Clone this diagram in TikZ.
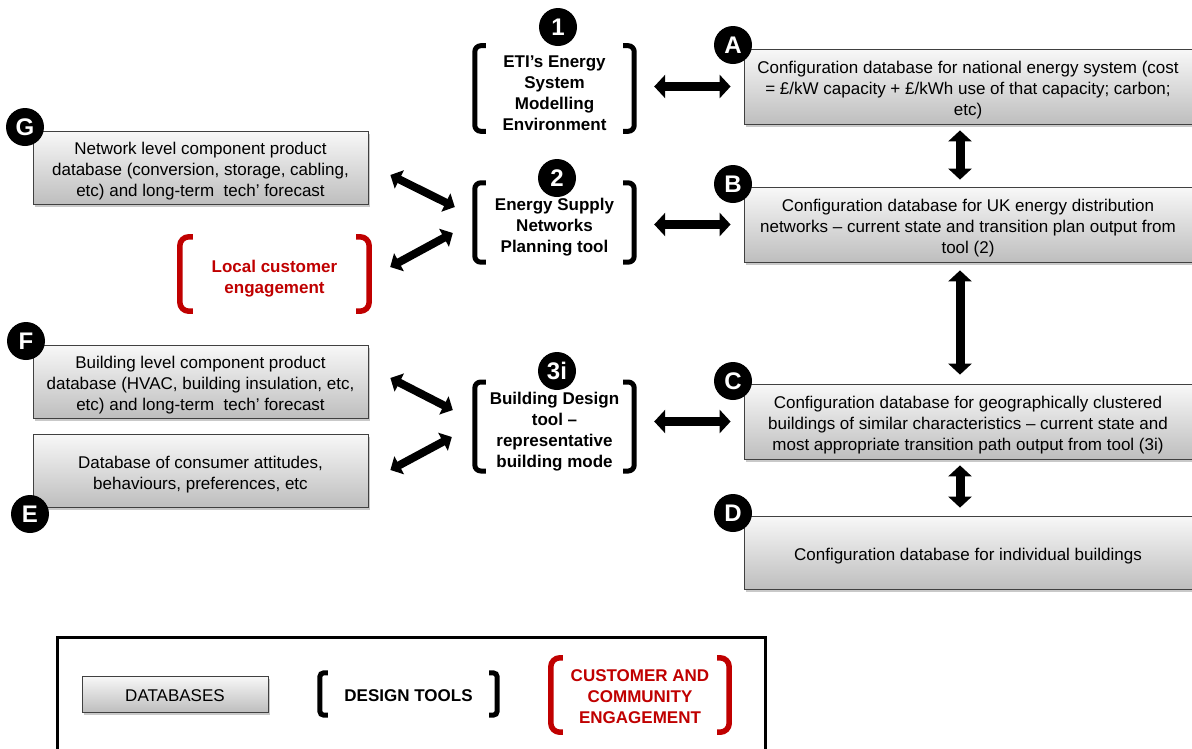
\documentclass[tikz,border=0pt]{standalone}
\usepackage{fontspec}
\setmainfont{Liberation Sans}
\usetikzlibrary{arrows.meta,shadows,calc}

\definecolor{ered}{HTML}{C00000}
\definecolor{boxtop}{HTML}{F8F8F8}
\definecolor{boxbot}{HTML}{BEBEBE}
\definecolor{boxline}{HTML}{404040}

\newcommand\ms{\rule{0pt}{20.5pt}}
\newcommand\mt{\rule{0pt}{22pt}}
\newcommand\ml{\rule{0pt}{16pt}}

\tikzset{
  db/.style={draw=boxline, line width=0.8pt, top color=boxtop, bottom color=boxbot,
    drop shadow={shadow xshift=2pt, shadow yshift=-2.5pt, opacity=0.35, fill=black!60},
    align=center, font=\fontsize{17}{21}\selectfont, inner sep=0pt, text=black},
  tool/.style={align=center, font=\fontsize{17}{21}\selectfont\bfseries, inner sep=0pt},
  badge/.style={circle, fill=black, text=white, font=\fontsize{24}{24}\selectfont\bfseries,
    minimum size=38pt, inner sep=0pt},
  brk/.style={line width=5pt, rounded corners=6pt},
  dbl/.style={line width=9pt, {Triangle[length=11pt,width=23pt]}-{Triangle[length=11pt,width=23pt]}},
  dbd/.style={line width=8pt, {Triangle[length=10pt,width=20pt]}-{Triangle[length=10pt,width=20pt]}},
}

\begin{document}
\begin{tikzpicture}[x=1pt,y=-1pt]
\useasboundingbox (0,0) rectangle (1192,748);
\fill[white] (0,0) rectangle (1192,748);

% right column databases
\node[db, minimum width=448pt, minimum height=75pt] (A) at (968,86.5)
  {\ms Configuration database for national energy system (cost\\= £/kW capacity + £/kWh use of that capacity; carbon;\\etc)};
\node[db, minimum width=448pt, minimum height=75pt] (B) at (968,224.5)
  {\ms Configuration database for UK energy distribution\\networks -- current state and transition plan output from\\tool (2)};
\node[db, minimum width=448pt, minimum height=75pt] (C) at (968,421.5)
  {\ms Configuration database for geographically clustered\\buildings of similar characteristics -- current state and\\most appropriate transition path output from tool (3i)};
\node[db, minimum width=448pt, minimum height=73pt] (D) at (968,552.5)
  {\ms Configuration database for individual buildings};

% left column databases
\node[db, minimum width=335pt, minimum height=73pt] (G) at (200.5,167.5)
  {\ms Network level component product\\database (conversion, storage, cabling,\\etc) and long-term\ \ tech' forecast};
\node[db, minimum width=335pt, minimum height=73pt] (F) at (200.5,381.5)
  {\ms Building level component product\\database (HVAC, building insulation, etc,\\etc) and long-term\ \ tech' forecast};
\node[db, minimum width=335pt, minimum height=73pt] (E) at (200.5,470.5)
  {\ms Database of consumer attitudes,\\behaviours, preferences, etc};

% tools
\node[tool, minimum width=159pt, minimum height=81pt] (t1) at (554.5,88.5)
  {\mt ETI’s Energy\\System\\Modelling\\Environment};
\node[tool, minimum width=159pt, minimum height=79pt] (t2) at (554.5,222.5)
  {\mt Energy Supply\\Networks\\Planning tool};
\node[tool, minimum width=159pt, minimum height=85pt] (t3) at (554.5,426.5)
  {\mt Building Design\\tool --\\representative\\building mode};
\node[tool, text=ered, minimum width=189pt, minimum height=74pt] (lc) at (274.5,274)
  {\mt Local customer\\engagement};

\foreach \t in {t1,t2,t3}{
  \draw[brk] ([xshift=11pt]\t.north west) -- (\t.north west) -- (\t.south west) -- ([xshift=11pt]\t.south west);
  \draw[brk] ([xshift=-11pt]\t.north east) -- (\t.north east) -- (\t.south east) -- ([xshift=-11pt]\t.south east);
}
\draw[brk, ered, line width=5.5pt, rounded corners=9pt] ([xshift=13pt]lc.north west) -- (lc.north west) -- (lc.south west) -- ([xshift=13pt]lc.south west);
\draw[brk, ered, line width=5.5pt, rounded corners=9pt] ([xshift=-13pt]lc.north east) -- (lc.north east) -- (lc.south east) -- ([xshift=-13pt]lc.south east);

% badges
\node[badge] (bA) at (733,45) {A};
\node[badge] (bB) at (733,184) {B};
\node[badge] (bC) at (733,381) {C};
\node[badge] (bD) at (733,513) {D};
\node[badge] (bG) at (25,127) {G};
\node[badge] (bF) at (26,341) {F};
\node[badge] (bE) at (30,514) {E};
\node[badge] (b1) at (558,27) {1};
\node[badge] (b2) at (557,178) {2};
\node[badge] (b3) at (557,371) {3i};

% horizontal arrows
\draw[dbl, shorten <=20pt, shorten >=13pt] (t1.east |- A.west) -- (A.west);
\draw[dbl, shorten <=20pt, shorten >=13pt] (t2.east |- B.west) -- (B.west);
\draw[dbl, shorten <=20pt, shorten >=13pt] (t3.east |- C.west) -- (C.west);

% vertical arrows
\draw[dbl, shorten <=6pt, shorten >=7pt] ([xshift=-8pt]A.south) -- ([xshift=-8pt]B.north);
\draw[dbl, shorten <=8pt, shorten >=9pt] ([xshift=-8pt]B.south) -- ([xshift=-8pt]C.north);
\draw[dbl, shorten <=6pt, shorten >=8pt] ([xshift=-8pt]C.south) -- ([xshift=-8pt]D.north);

% diagonal arrows
\draw[dbd] ($(G.east)+(22,7.5)$) -- ($(t2.west)+(-20,-15.5)$);
\draw[dbd] ($(lc.east)+(21,-7)$) -- ($(t2.west)+(-22,10.5)$);
\draw[dbd] ($(F.east)+(22,-3.5)$) -- ($(t3.west)+(-22,-16.5)$);
\draw[dbd] ($(E.east)+(22,-0.5)$) -- ($(t3.west)+(-23,10.5)$);

% legend
\node[draw=black, line width=3pt, minimum width=708pt, minimum height=123pt, inner sep=0pt] (leg) at (411,698.5) {};
\node[db, minimum width=186pt, minimum height=36pt] (ldb) at (175,694) {\ml DATABASES};
\node[tool, minimum width=177pt, minimum height=42pt] (lt) at (408.5,694) {\ml DESIGN TOOLS};
\node[tool, text=ered, minimum width=178pt, minimum height=74pt] (lcc) at (640,695)
  {\ml CUSTOMER AND\\COMMUNITY\\ENGAGEMENT};
\draw[brk, line width=5pt, rounded corners=4pt] ([xshift=8pt]lt.north west) -- (lt.north west) -- (lt.south west) -- ([xshift=8pt]lt.south west);
\draw[brk, line width=5pt, rounded corners=4pt] ([xshift=-8pt]lt.north east) -- (lt.north east) -- (lt.south east) -- ([xshift=-8pt]lt.south east);
\draw[brk, ered, line width=5.5pt, rounded corners=9pt] ([xshift=12pt]lcc.north west) -- (lcc.north west) -- (lcc.south west) -- ([xshift=12pt]lcc.south west);
\draw[brk, ered, line width=5.5pt, rounded corners=9pt] ([xshift=-12pt]lcc.north east) -- (lcc.north east) -- (lcc.south east) -- ([xshift=-12pt]lcc.south east);
\end{tikzpicture}
\end{document}
